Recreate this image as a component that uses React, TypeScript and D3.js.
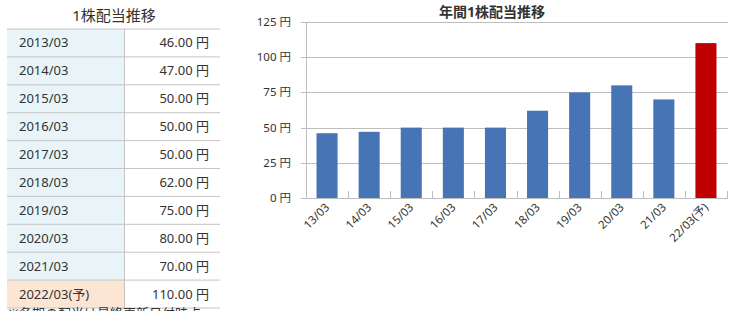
import React from "react";
import * as d3 from "d3";

const tableYears = ["2013/03","2014/03","2015/03","2016/03","2017/03","2018/03","2019/03","2020/03","2021/03","2022/03(予)"];
const tableValues = ["46.00 円","47.00 円","50.00 円","50.00 円","50.00 円","62.00 円","75.00 円","80.00 円","70.00 円","110.00 円"];
const categories = ["13/03","14/03","15/03","16/03","17/03","18/03","19/03","20/03","21/03","22/03(予)"];
const dividends = [46,47,50,50,50,62,75,80,70,110];
const yTicks = [0,25,50,75,100,125];

const FONT = "'Noto Sans', 'Noto Sans CJK JP', sans-serif";

export default function App() {
  const W = 734, H = 311;
  // table geometry
  const tX0 = 7, tX1 = 124, tX2 = 220, tY0 = 29, rowH = 27.9;
  // chart geometry
  const pL = 306, pR = 727, pT = 22, pB = 198;
  const x = d3.scaleBand<string>().domain(categories).range([pL, pR]).paddingInner(0.5).paddingOuter(0.25);
  const y = d3.scaleLinear().domain([0, 125]).range([pB, pT]);
  const step = x.step();
  const bandStart = (i: number) => (x(categories[i]) as number) - step * 0.25;

  return (
    <svg width={W} height={H} style={{ position: "absolute", left: 0, top: 0, display: "block" }} fontFamily={FONT}>
      <rect width={W} height={H} fill="#fff" />
      {/* Table */}
      <text x={114} y={21} textAnchor="middle" fontSize={15} fill="#333">1株配当推移</text>
      {tableYears.map((yr, i) => {
        const yy = tY0 + i * rowH;
        const last = i === tableYears.length - 1;
        return (
          <g key={yr}>
            <rect x={tX0} y={yy} width={tX1 - tX0} height={rowH} fill={last ? "#fde5d4" : "#e8f4f8"} />
            <text x={19} y={yy + rowH / 2 + 4.5} fontSize={13} fill="#333">{yr}</text>
            <text x={209} y={yy + rowH / 2 + 4.5} fontSize={13} fill="#333" textAnchor="end">{tableValues[i]}</text>
          </g>
        );
      })}
      {d3.range(tableYears.length + 1).map((i) => (
        <line key={i} x1={tX0} x2={tX2} y1={tY0 + i * rowH} y2={tY0 + i * rowH} stroke="#c4c4c4" />
      ))}
      <line x1={tX1 + 0.5} x2={tX1 + 0.5} y1={tY0} y2={tY0 + rowH * tableYears.length} stroke="#c4c4c4" />
      <text x={8} y={318} fontSize={13} fill="#333">※各期の配当は最終更新日付時点</text>

      {/* Chart */}
      <text x={492} y={17} textAnchor="middle" fontSize={14} fontWeight="bold" fill="#333">年間1株配当推移</text>
      {yTicks.map((t) => (
        <g key={t}>
          <line x1={pL - 5} x2={pR + 1} y1={Math.round(y(t)) + 0.5} y2={Math.round(y(t)) + 0.5} stroke="#bdbdbd" />
          <text x={291} y={y(t) + 4} textAnchor="end" fontSize={11.5} fill="#333">{t} 円</text>
        </g>
      ))}
      <line x1={pL + 0.5} x2={pL + 0.5} y1={pT} y2={pB} stroke="#bdbdbd" />
      {d3.range(categories.length + 1).map((i) => {
        const xx = i < categories.length ? bandStart(i) : pR;
        return <line key={i} x1={Math.round(xx) + 0.5} x2={Math.round(xx) + 0.5} y1={pB - 7} y2={pB} stroke="#bdbdbd" />;
      })}
      {categories.map((c, i) => (
        <rect key={c} x={x(c)} y={y(dividends[i])} width={x.bandwidth()} height={pB - y(dividends[i])}
          fill={i === categories.length - 1 ? "#bf0000" : "#4674b5"} />
      ))}
      {categories.map((c) => {
        const cx = (x(c) as number) + x.bandwidth() / 2 + 3;
        return (
          <text key={c} transform={`translate(${cx},${208}) rotate(-45)`} textAnchor="end" fontSize={11.5} fill="#333">{c}</text>
        );
      })}
    </svg>
  );
}
